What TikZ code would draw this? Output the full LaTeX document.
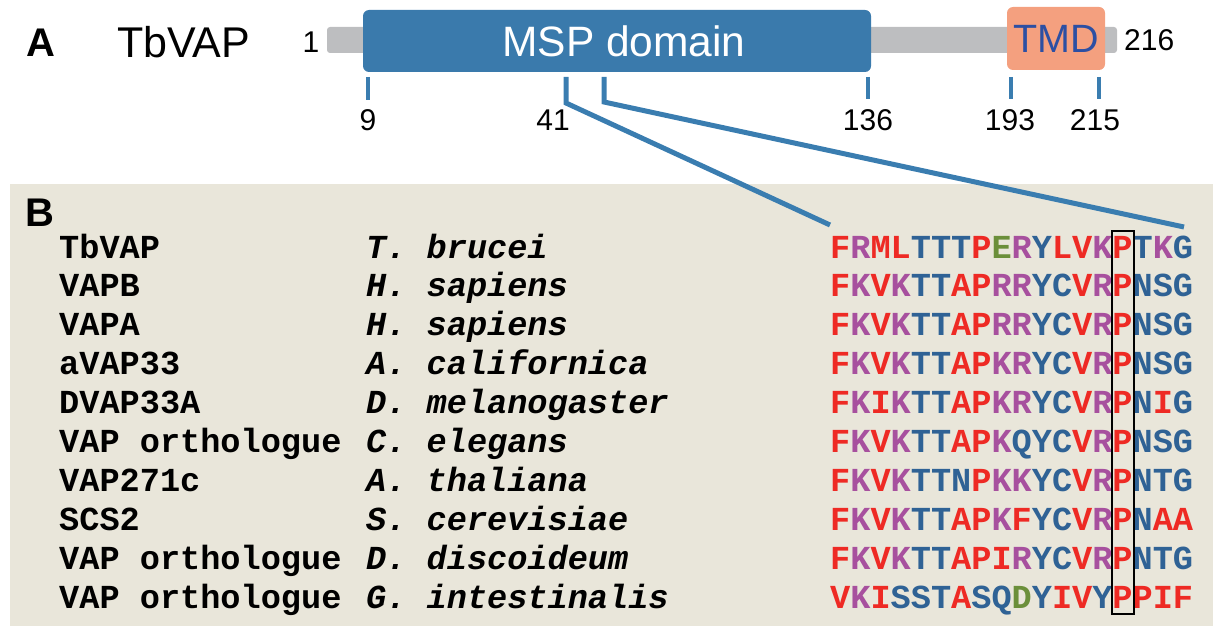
\documentclass[tikz,border=0pt]{standalone}
\usepackage{fontspec}
\setmainfont{Liberation Sans}
\newfontfamily\monofont{Liberation Mono}
\definecolor{panelbg}{HTML}{E9E6DA}
\definecolor{mspblue}{HTML}{3A7AAC}
\definecolor{tickblue}{HTML}{3A7DB0}
\definecolor{barcol}{HTML}{BDBEC0}
\definecolor{tmdfill}{HTML}{F4A07F}
\definecolor{tmdtext}{HTML}{2C4FA3}
\definecolor{seqred}{HTML}{EE2A24}
\definecolor{seqpurple}{HTML}{A7509E}
\definecolor{seqblue}{HTML}{2F6295}
\definecolor{seqgreen}{HTML}{6B8F3A}
\newcommand\setaa[2]{\expandafter\def\csname aac#1\endcsname{#2}}
\setaa{F}{seqred}\setaa{M}{seqred}\setaa{L}{seqred}\setaa{P}{seqred}
\setaa{V}{seqred}\setaa{I}{seqred}\setaa{A}{seqred}
\setaa{R}{seqpurple}\setaa{K}{seqpurple}
\setaa{T}{seqblue}\setaa{Y}{seqblue}\setaa{C}{seqblue}\setaa{N}{seqblue}
\setaa{S}{seqblue}\setaa{G}{seqblue}\setaa{Q}{seqblue}
\setaa{E}{seqgreen}\setaa{D}{seqgreen}
\newcommand\colseq[1]{\expandafter\colseqi#1\relax}
\def\colseqi#1{\ifx\relax#1\else\textcolor{\csname aac#1\endcsname}{#1}\expandafter\colseqi\fi}
\begin{document}
\begin{tikzpicture}[x=1pt,y=-1pt,
  panellabel/.style={font=\bfseries\fontsize{40}{42}\selectfont, inner sep=0},
  numlabel/.style={font=\fontsize{30}{32}\selectfont, inner sep=0},
  ticklabel/.style={numlabel, anchor=center},
  tickline/.style={draw=tickblue, line width=4.5pt},
  connline/.style={draw=tickblue, line width=5pt, line join=miter},
  mono/.style={font=\monofont\bfseries\fontsize{33.6}{36}\selectfont, anchor=base west, inner sep=0},
  monoit/.style={font=\monofont\bfseries\itshape\fontsize{33.6}{36}\selectfont, anchor=base west, inner sep=0},
]
\useasboundingbox (0,0) rectangle (1213,626);
% panel B background
\fill[panelbg] (10,184) rectangle (1213,626);
% panel A
\node[panellabel] (labA) at (41,43) {A};
\node[font=\fontsize{43}{45}\selectfont, inner sep=0, anchor=west] (prot) at (117,42) {TbVAP};
\node[numlabel] (n1) at (311,42) {1};
\fill[barcol, rounded corners=3pt] (327,27) rectangle (1117,53);
\node[fill=mspblue, rounded corners=6pt, minimum width=508pt, minimum height=62pt, inner sep=0,
  text=white, font=\fontsize{42.5}{44}\selectfont] (msp) at (617,41) {};
\node[text=white, font=\fontsize{42.5}{44}\selectfont, inner sep=0] (msptext) at (624,41) {MSP domain};
\node[fill=tmdfill, rounded corners=6pt, minimum width=98pt, minimum height=63pt, inner sep=0,
  text=tmdtext, font=\fontsize{39.5}{41}\selectfont] (tmd) at (1056,38.5) {TMD};
\node[numlabel, anchor=west] (n216) at (1124,40) {216};
% ticks
\coordinate (t9a) at (368,77);   \coordinate (t9b) at (368,100);
\coordinate (t41a) at (566,77);  \coordinate (t41b) at (566,103);
\coordinate (t57a) at (604,77);  \coordinate (t57b) at (604,102);
\coordinate (t136a) at (868,77); \coordinate (t136b) at (868,99);
\coordinate (t193a) at (1011,77);\coordinate (t193b) at (1011,99);
\coordinate (t215a) at (1099,77);\coordinate (t215b) at (1099,99);
\draw[tickline] (t9a) -- (t9b);
\draw[tickline] (t136a) -- (t136b);
\draw[tickline] (t193a) -- (t193b);
\draw[tickline] (t215a) -- (t215b);
\node[ticklabel] (l9) at (368,120) {9};
\node[ticklabel] (l41) at (553,120) {41};
\node[ticklabel] (l136) at (868,120) {136};
\node[ticklabel] (l193) at (1010,120) {193};
\node[ticklabel] (l215) at (1095,120) {215};
% zoom connectors
\coordinate (zl) at (830,225);
\coordinate (zr) at (1184,227);
\draw[connline] (t41a) -- (t41b) -- (zl);
\draw[connline] (t57a) -- (t57b) -- (zr);
% panel B
\node[panellabel] (labB) at (40,213) {B};
\foreach \i/\nm/\sp/\sq in {
  0/TbVAP/T. brucei/FRMLTTTPERYLVKPTKG,
  1/VAPB/H. sapiens/FKVKTTAPRRYCVRPNSG,
  2/VAPA/H. sapiens/FKVKTTAPRRYCVRPNSG,
  3/aVAP33/A. californica/FKVKTTAPKRYCVRPNSG,
  4/DVAP33A/D. melanogaster/FKIKTTAPKRYCVRPNIG,
  5/VAP orthologue/C. elegans/FKVKTTAPKQYCVRPNSG,
  6/VAP271c/A. thaliana/FKVKTTNPKKYCVRPNTG,
  7/SCS2/S. cerevisiae/FKVKTTAPKFYCVRPNAA,
  8/VAP orthologue/D. discoideum/FKVKTTAPIRYCVRPNTG,
  9/VAP orthologue/G. intestinalis/VKISSTASQDYIVYPPIF}{
  \node[mono] (name\i) at (59,258+38.9*\i) {\nm};
  \node[monoit] (sp\i) at (366,258+38.9*\i) {\sp};
  \node[mono] (seq\i) at (830,258+38.9*\i) {\colseq{\sq}};
}
% conserved proline box
\draw[line width=2pt] (1112,231) rectangle (1134,614);
\end{tikzpicture}
\end{document}
